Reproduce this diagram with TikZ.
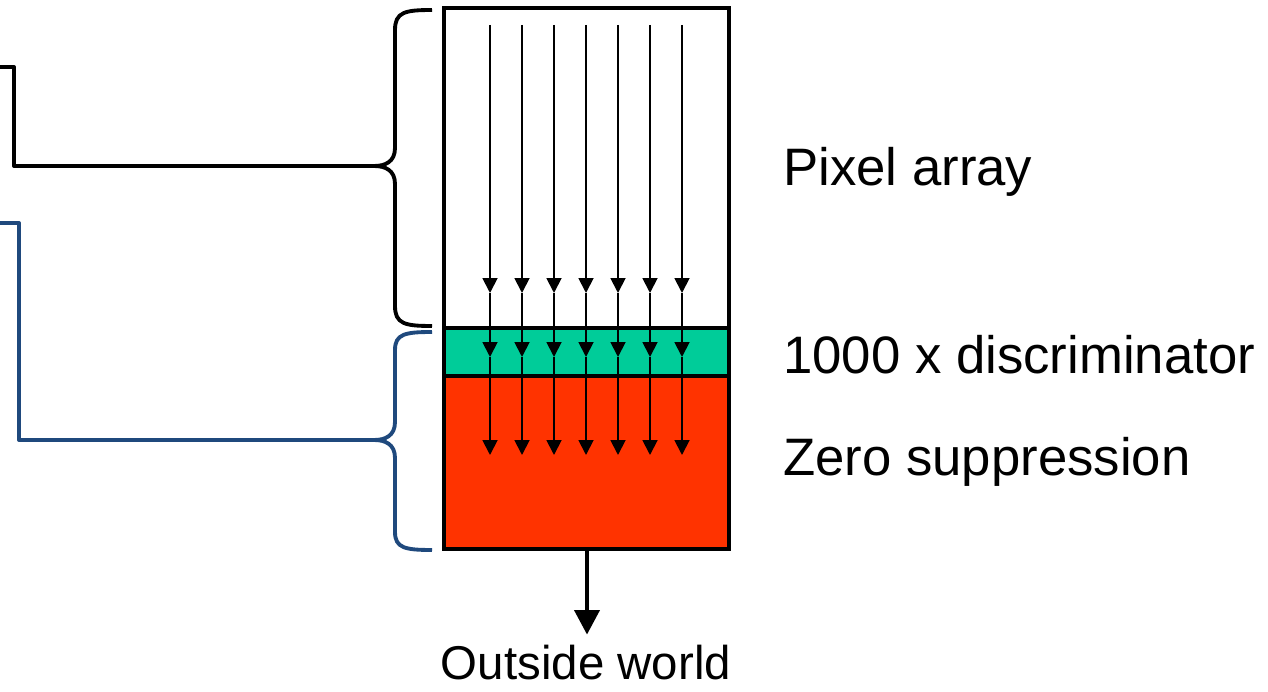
\documentclass[tikz,border=0pt]{standalone}
\usepackage{fontspec}
\setmainfont{Liberation Sans}
\usetikzlibrary{arrows.meta}

\definecolor{discgreen}{RGB}{0,204,153}
\definecolor{zsred}{RGB}{255,51,0}
\definecolor{linkblue}{RGB}{31,73,125}

\tikzset{
  lbl/.style={font=\fontsize{30}{36}\selectfont, inner sep=0pt},
  hitline/.style={line width=1.1pt, -{Triangle[length=8.5pt,width=8.5pt]}},
  bracket/.style={line width=2.2pt, line join=round},
}

\begin{document}
\begin{tikzpicture}[x=0.02cm, y=-0.02cm]
			\useasboundingbox (0,0) rectangle (1268,692);
			% blocks
			\fill[discgreen] (444,328) rectangle (729,376);
			\fill[zsred] (444,376) rectangle (729,549);
			\draw[line width=2.8pt] (444,8) rectangle (729,549);
			\draw[line width=2.8pt] (444,328) -- (729,328);
			\draw[line width=2.8pt] (444,376) -- (729,376);
			% hit paths through the column
			\foreach \x in {490,522,...,682} {
				\coordinate (top\x) at (\x,25);
				\coordinate (pix\x) at (\x,293);
				\coordinate (dis\x) at (\x,357);
				\coordinate (zs\x) at (\x,455);
				\draw[hitline] (top\x) -- (pix\x);
				\draw[hitline] (pix\x) -- (dis\x);
				\draw[hitline] (dis\x) -- (zs\x);
			}
			% readout
			\node[lbl, font=\fontsize{27}{32}\selectfont, anchor=center] (out) at (586,663) {Outside world};
			\coordinate (colbot) at (587,551);
			\draw[line width=2.8pt, -{Triangle[length=14pt,width=14pt]}, shorten >=6pt] (colbot) -- (colbot |- out.north);
			% labels
			\node[lbl, anchor=west] (pixlbl) at (783,172) {Pixel array};
			\node[lbl, anchor=west] (dislbl) at (783,355) {1000 x discriminator};
			\node[lbl, anchor=west] (zslbl) at (783,462) {Zero suppression};
			% braces
			\coordinate (btip) at (374,166);
			\draw[bracket] (432,10) .. controls (405,10) and (395,12) .. (395,30) -- (395,148)
				.. controls (395,162) and (385,166) .. (btip)
				.. controls (385,166) and (395,170) .. (395,184) -- (395,306)
				.. controls (395,324) and (405,326) .. (432,326);
			\coordinate (ltip) at (374,440);
			\draw[bracket, linkblue] (432,332) .. controls (405,332) and (395,334) .. (395,350) -- (395,422)
				.. controls (395,436) and (385,440) .. (ltip)
				.. controls (385,440) and (395,444) .. (395,458) -- (395,532)
				.. controls (395,548) and (405,550) .. (432,550);
			% links to the left
			\coordinate (bin) at (0,67);
			\coordinate (lin) at (0,223);
			\draw[bracket] (bin) -| (14,166) -- (btip);
			\draw[bracket, linkblue] (lin) -| (19,440) -- (ltip);
		\end{tikzpicture}
\end{document}
